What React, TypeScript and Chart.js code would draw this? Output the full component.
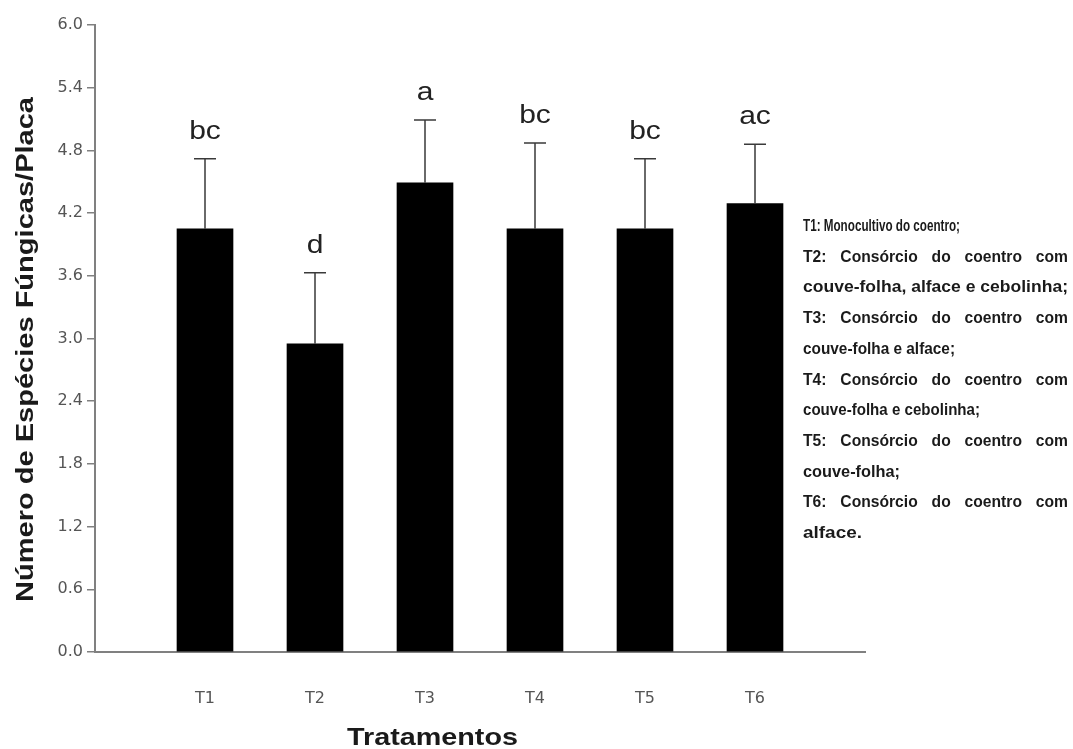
import React, { useEffect, useRef } from 'react';
import { Chart, registerables } from 'chart.js';

Chart.register(...registerables);

// ---- data ----
const categories = ['T1', 'T2', 'T3', 'T4', 'T5', 'T6'];
const means = [4.05, 2.95, 4.49, 4.05, 4.05, 4.29];
const errors = [0.67, 0.68, 0.6, 0.82, 0.67, 0.57];
const letters = ['bc', 'd', 'a', 'bc', 'bc', 'ac'];
const yTicks = [0, 0.6, 1.2, 1.8, 2.4, 3.0, 3.6, 4.2, 4.8, 5.4, 6.0];
const yTitle = 'Número de Espécies Fúngicas/Placa';
const xTitle = 'Tratamentos';
const legendLines = [
  'T1: Monocultivo do coentro;',
  'T2: Consórcio do coentro com',
  'couve-folha, alface e cebolinha;',
  'T3: Consórcio do coentro com',
  'couve-folha e alface;',
  'T4: Consórcio do coentro com',
  'couve-folha e cebolinha;',
  'T5: Consórcio do coentro com',
  'couve-folha;',
  'T6: Consórcio do coentro com',
  'alface.',
];

// ---- layout (not data) ----
const LEG_X = 803;
const LEG_R = 1068;
const LEG_Y0 = 231;
const LEG_DY = 30.7;
// target right edge of each legend line; 0 = justified to full width
const legendEnds = [960, 0, 1068, 0, 955, 0, 980, 0, 900, 0, 862];

function drawScaled(ctx: CanvasRenderingContext2D, text: string, x: number, y: number, width: number) {
  const w = ctx.measureText(text).width;
  const sx = width / w;
  ctx.save();
  ctx.translate(x, y);
  ctx.scale(sx, 1);
  ctx.textAlign = 'left';
  ctx.fillText(text, 0, 0);
  ctx.restore();
}

const annotations = {
  id: 'annotations',
  afterDraw(chart: any) {
    const ctx: CanvasRenderingContext2D = chart.ctx;
    const xs = chart.scales.x;
    const ys = chart.scales.y;
    ctx.save();
    // error bars + letters
    means.forEach((m, i) => {
      const x = xs.getPixelForValue(i + 1);
      const yb = ys.getPixelForValue(m);
      const yt = ys.getPixelForValue(m + errors[i]);
      ctx.strokeStyle = '#3a3a3a';
      ctx.lineWidth = 1.5;
      ctx.beginPath();
      ctx.moveTo(x, yb);
      ctx.lineTo(x, yt);
      ctx.moveTo(x - 11, yt);
      ctx.lineTo(x + 11, yt);
      ctx.stroke();

      ctx.fillStyle = '#222';
      ctx.font = '25px "Liberation Sans", Arial, sans-serif';
      ctx.textBaseline = 'alphabetic';
      const w = ctx.measureText(letters[i]).width * 1.2;
      drawScaled(ctx, letters[i], x - w / 2, yt - 20, w);
    });

    // axis titles
    ctx.fillStyle = '#1a1a1a';
    ctx.font = 'bold 24px "Liberation Sans", Arial, sans-serif';
    ctx.textBaseline = 'alphabetic';
    drawScaled(ctx, xTitle, 347, 745, 171);

    ctx.save();
    ctx.translate(33, 349.5);
    ctx.rotate(-Math.PI / 2);
    drawScaled(ctx, yTitle, -252.5, 0, 505);
    ctx.restore();

    // legend text block
    ctx.font = 'bold 17px "Liberation Sans", Arial, sans-serif';
    ctx.fillStyle = '#1a1a1a';
    legendLines.forEach((line, i) => {
      const y = LEG_Y0 + i * LEG_DY;
      const end = legendEnds[i];
      if (end > 0) {
        drawScaled(ctx, line, LEG_X, y, end - LEG_X);
      } else {
        const words = line.split(' ');
        const ws = 0.92;
        const widths = words.map((w) => ctx.measureText(w).width * ws);
        const total = widths.reduce((a, b) => a + b, 0);
        const gap = (LEG_R - LEG_X - total) / (words.length - 1);
        let x = LEG_X;
        words.forEach((w, k) => {
          drawScaled(ctx, w, x, y, widths[k]);
          x += widths[k] + gap;
        });
      }
    });
    ctx.restore();
  },
};

export default function App() {
  const canvasRef = useRef<HTMLCanvasElement | null>(null);

  useEffect(() => {
    const canvas = canvasRef.current;
    if (!canvas) return;
    const chart = new Chart(canvas, {
      type: 'bar',
      data: {
        datasets: [
          {
            data: categories.map((c, i) => ({ x: i + 1, y: means[i] })) as any,
            backgroundColor: '#000000',
            borderWidth: 0,
            barThickness: 56,
          },
        ],
      },
      options: {
        responsive: false,
        animation: false,
        devicePixelRatio: 1,
        layout: { padding: { top: 25, right: 208, left: 0, bottom: 0 } },
        plugins: {
          legend: { display: false },
          tooltip: { enabled: false },
          title: { display: false },
        },
        scales: {
          x: {
            type: 'linear',
            min: 0,
            max: 7,
            offset: false,
            afterBuildTicks: (scale: any) => {
              scale.ticks = categories.map((_, i) => ({ value: i + 1 }));
            },
            afterFit: (scale: any) => {
              scale.height = 97;
            },
            ticks: {
              callback: (v: any) => categories[Number(v) - 1] ?? '',
              color: '#555',
              font: { family: '"DejaVu Sans", sans-serif', size: 16 },
              padding: 37,
              autoSkip: false,
              maxRotation: 0,
            },
            grid: { display: false, drawTicks: false, offset: false },
            border: { display: true, color: '#808080', width: 2 },
          },
          y: {
            min: 0,
            max: 6,
            afterBuildTicks: (scale: any) => {
              scale.ticks = yTicks.map((v) => ({ value: v }));
            },
            afterFit: (scale: any) => {
              scale.width = 95;
            },
            ticks: {
              callback: (v: any) => Number(v).toFixed(1),
              color: '#555',
              font: { family: '"DejaVu Sans", sans-serif', size: 16 },
              padding: 4,
            },
            grid: {
              drawOnChartArea: false,
              drawTicks: true,
              tickLength: 8,
              color: '#808080',
              lineWidth: 1.5,
            },
            border: { display: true, color: '#808080', width: 2 },
          },
        },
      },
      plugins: [annotations],
    });
    return () => chart.destroy();
  }, []);

  return (
    <div style={{ position: 'absolute', left: 0, top: 0, width: 1073, height: 749, background: '#fff' }}>
      <canvas ref={canvasRef} width={1073} height={749} style={{ display: 'block' }} />
    </div>
  );
}
